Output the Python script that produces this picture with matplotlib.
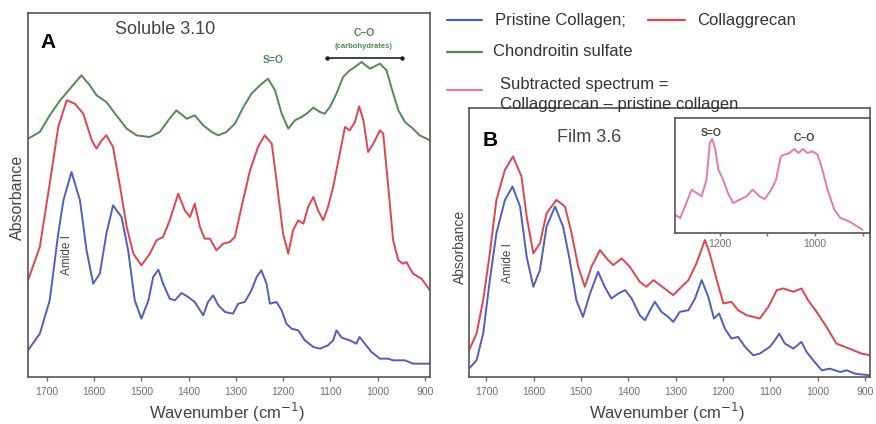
import matplotlib
matplotlib.use("Agg")
import matplotlib.pyplot as plt
from matplotlib.lines import Line2D

plt.rcParams['font.family'] = ['Liberation Sans', 'DejaVu Sans']
plt.rcParams['lines.solid_joinstyle'] = 'round'
plt.rcParams['lines.solid_capstyle'] = 'round'

# ---- Panel A: soluble 3.10 ----
wn_a_blue = [1740, 1715, 1694, 1676, 1665, 1648, 1630, 1616, 1602, 1588,
             1574, 1560, 1542, 1528, 1514, 1500, 1485, 1475, 1464, 1454,
             1440, 1429, 1415, 1401, 1387, 1369, 1359, 1348, 1337, 1323,
             1306, 1295, 1281, 1267, 1256, 1246, 1235, 1228, 1214, 1203,
             1193, 1182, 1168, 1154, 1136, 1122, 1105, 1094, 1087, 1076,
             1059, 1045, 1038, 1027, 1013, 995, 978, 967, 942, 925, 889]
abs_a_blue = [0.08, 0.13, 0.23, 0.43, 0.53, 0.615, 0.53, 0.38, 0.28, 0.31,
              0.43, 0.515, 0.48, 0.38, 0.23, 0.175, 0.23, 0.30, 0.322, 0.28,
              0.235, 0.23, 0.252, 0.24, 0.225, 0.185, 0.225, 0.245, 0.215, 0.195,
              0.19, 0.22, 0.225, 0.26, 0.30, 0.32, 0.28, 0.22, 0.225, 0.20,
              0.16, 0.145, 0.14, 0.11, 0.09, 0.085, 0.095, 0.11, 0.14, 0.118,
              0.11, 0.10, 0.12, 0.10, 0.075, 0.055, 0.055, 0.05, 0.05, 0.04, 0.04]

wn_a_red = [1740, 1715, 1694, 1676, 1658, 1641, 1623, 1605, 1595, 1584,
            1574, 1560, 1545, 1531, 1517, 1500, 1482, 1468, 1454, 1440,
            1422, 1408, 1397, 1387, 1376, 1366, 1355, 1341, 1327, 1313,
            1302, 1288, 1270, 1253, 1239, 1224, 1214, 1200, 1189, 1179,
            1168, 1157, 1147, 1136, 1126, 1115, 1105, 1094, 1080, 1069,
            1059, 1048, 1039, 1030, 1020, 1009, 995, 988, 978, 967,
            956, 946, 939, 925, 907, 889]
abs_a_red = [0.29, 0.39, 0.58, 0.75, 0.83, 0.82, 0.79, 0.71, 0.685, 0.71,
             0.725, 0.69, 0.57, 0.45, 0.37, 0.335, 0.37, 0.41, 0.42, 0.47,
             0.55, 0.50, 0.48, 0.52, 0.45, 0.415, 0.415, 0.38, 0.40, 0.405,
             0.42, 0.51, 0.62, 0.69, 0.725, 0.70, 0.59, 0.43, 0.37, 0.44,
             0.47, 0.46, 0.51, 0.54, 0.50, 0.47, 0.51, 0.57, 0.67, 0.75,
             0.74, 0.765, 0.812, 0.77, 0.675, 0.70, 0.74, 0.73, 0.58, 0.41,
             0.35, 0.34, 0.345, 0.31, 0.295, 0.26]

wn_a_green = [1740, 1715, 1694, 1672, 1651, 1627, 1609, 1595, 1574, 1553,
              1531, 1510, 1482, 1461, 1443, 1426, 1404, 1387, 1369, 1351,
              1337, 1320, 1302, 1284, 1267, 1249, 1232, 1217, 1203, 1189,
              1175, 1161, 1150, 1136, 1122, 1112, 1101, 1087, 1073, 1059,
              1048, 1034, 1016, 995, 981, 971, 956, 942, 925, 911, 889]
abs_a_green = [0.715, 0.735, 0.785, 0.83, 0.865, 0.905, 0.875, 0.845, 0.825, 0.785,
               0.745, 0.725, 0.72, 0.735, 0.77, 0.80, 0.775, 0.785, 0.755, 0.735,
               0.725, 0.735, 0.76, 0.81, 0.85, 0.875, 0.895, 0.86, 0.79, 0.745,
               0.77, 0.78, 0.79, 0.808, 0.795, 0.79, 0.81, 0.85, 0.90, 0.92,
               0.93, 0.945, 0.925, 0.94, 0.92, 0.87, 0.80, 0.765, 0.745, 0.725, 0.71]

# ---- Panel B: film 3.6 ----
wn_b_blue = [1737, 1721, 1707, 1693, 1679, 1661, 1645, 1629, 1615, 1601,
             1587, 1573, 1555, 1538, 1524, 1510, 1496, 1481, 1464, 1450,
             1436, 1421, 1407, 1393, 1376, 1365, 1354, 1344, 1330, 1316,
             1305, 1291, 1273, 1259, 1245, 1231, 1219, 1208, 1196, 1182,
             1168, 1153, 1136, 1122, 1101, 1090, 1081, 1069, 1051, 1034,
             1023, 1009, 991, 974, 952, 938, 921, 889]
abs_b_blue = [0.025, 0.05, 0.13, 0.29, 0.43, 0.53, 0.57, 0.51, 0.36, 0.27,
              0.32, 0.45, 0.51, 0.45, 0.35, 0.23, 0.18, 0.25, 0.315, 0.27,
              0.235, 0.25, 0.26, 0.235, 0.185, 0.17, 0.20, 0.225, 0.195, 0.18,
              0.165, 0.195, 0.20, 0.235, 0.29, 0.24, 0.175, 0.19, 0.145, 0.115,
              0.12, 0.09, 0.065, 0.07, 0.09, 0.11, 0.13, 0.10, 0.085, 0.105,
              0.075, 0.05, 0.02, 0.025, 0.015, 0.02, 0.01, 0.005]

wn_b_red = [1737, 1721, 1707, 1693, 1679, 1661, 1644, 1626, 1615, 1601,
            1587, 1573, 1552, 1534, 1520, 1506, 1492, 1478, 1460, 1446,
            1432, 1414, 1397, 1376, 1362, 1347, 1333, 1319, 1305, 1291,
            1273, 1256, 1238, 1228, 1213, 1199, 1182, 1168, 1150, 1122,
            1104, 1086, 1072, 1051, 1034, 1020, 1002, 981, 960, 942,
            924, 907, 889]
abs_b_red = [0.08, 0.13, 0.23, 0.37, 0.53, 0.62, 0.66, 0.60, 0.48, 0.37,
             0.40, 0.49, 0.53, 0.51, 0.43, 0.33, 0.27, 0.33, 0.38, 0.355,
             0.335, 0.355, 0.33, 0.285, 0.27, 0.29, 0.275, 0.26, 0.245, 0.265,
             0.29, 0.34, 0.41, 0.37, 0.29, 0.22, 0.225, 0.20, 0.185, 0.175,
             0.21, 0.26, 0.265, 0.255, 0.265, 0.23, 0.195, 0.15, 0.10, 0.09,
             0.08, 0.07, 0.065]

# ---- Inset: subtracted spectrum ----
wn_sub = [1294, 1283, 1273, 1259, 1249, 1238, 1228, 1221, 1216, 1210,
          1203, 1193, 1183, 1172, 1158, 1144, 1131, 1117, 1106, 1092,
          1082, 1072, 1065, 1054, 1044, 1035, 1026, 1016, 1006, 995,
          985, 974, 960, 947, 929, 912, 901]
abs_sub = [0.055, 0.045, 0.08, 0.13, 0.12, 0.11, 0.16, 0.27, 0.282, 0.255,
           0.19, 0.16, 0.12, 0.09, 0.10, 0.11, 0.13, 0.11, 0.102, 0.13,
           0.16, 0.23, 0.235, 0.24, 0.252, 0.24, 0.252, 0.24, 0.245, 0.235,
           0.19, 0.13, 0.07, 0.045, 0.035, 0.02, 0.01]

xticks_main = [1700, 1600, 1500, 1400, 1300, 1200, 1100, 1000, 900]

BLUE = '#4d5fbf'
RED = '#e0454d'
GREEN = '#4f8c50'
PINK = '#e27aaf'
FRAME = '#555555'
TICK = '#707070'
W, H = 876, 424


def fx(x):
    return x / W


def fy(y):
    return 1 - y / H


def style_axes(ax):
    for s in ax.spines.values():
        s.set_color(FRAME)
        s.set_linewidth(1.2)
    ax.set_yticks([])
    ax.tick_params(axis='x', direction='out', length=3, width=1,
                   color=TICK, labelcolor=TICK, labelsize=7.5, pad=4)


fig = plt.figure(figsize=(8.76, 4.24), dpi=100)

# Panel A
axA = fig.add_axes([fx(28), fy(377), fx(402), 364 / H])
axA.plot(wn_a_blue, abs_a_blue, color=BLUE, lw=1.4)
axA.plot(wn_a_red, abs_a_red, color=RED, lw=1.4)
axA.plot(wn_a_green, abs_a_green, color=GREEN, lw=1.4)
axA.set_xlim(1740, 889)
axA.set_ylim(0, 1.092)
axA.set_xticks(xticks_main)
style_axes(axA)
# bracket over the carbohydrate region
axA.plot([1108, 949], [0.876, 0.876], color='#222222', lw=1.2,
         marker='o', ms=2.2, transform=axA.get_xaxis_transform(), clip_on=False)

# Panel B
axB = fig.add_axes([fx(469), fy(377), fx(401), 269 / H])
axB.plot(wn_b_blue, abs_b_blue, color=BLUE, lw=1.4)
axB.plot(wn_b_red, abs_b_red, color=RED, lw=1.4)
axB.set_xlim(1737, 889)
axB.set_ylim(0, 0.805)
axB.set_xticks(xticks_main)
style_axes(axB)

# Inset
axI = fig.add_axes([fx(675), fy(233), fx(195), 115 / H])
axI.plot(wn_sub, abs_sub, color=PINK, lw=1.4)
axI.set_xlim(1294, 885)
axI.set_ylim(0, 0.345)
axI.set_xticks([1200, 1100, 1000, 900])
axI.set_xticklabels(['1200', '', '1000', ''])
style_axes(axI)
axI.tick_params(axis='x', length=2.5, pad=2)

# Texts panel A
fig.text(fx(40), fy(42), 'A', fontsize=15, fontweight='bold', va='center', ha='left')
fig.text(fx(115), fy(30), 'Soluble 3.10', fontsize=13, color='#444444', va='center', ha='left')
fig.text(fx(273), fy(60), 'S=O', fontsize=7.5, fontweight='bold', color=GREEN, va='center', ha='center')
fig.text(fx(364), fy(33), 'C–O', fontsize=7.5, fontweight='bold', color=GREEN, va='center', ha='center')
fig.text(fx(364), fy(47), '(carbohydrates)', fontsize=5.5, fontweight='bold', color=GREEN, va='center', ha='center')
fig.text(fx(67), fy(255), 'Amide I', fontsize=8.5, color='#444444', rotation=90, va='center', ha='center')
fig.text(fx(17), fy(197), 'Absorbance', fontsize=11.5, color='#444444', rotation=90, va='center', ha='center')
fig.text(fx(227), fy(412), 'Wavenumber (cm$^{-1}$)', fontsize=12, color='#444444', va='center', ha='center')

# Texts panel B
fig.text(fx(483), fy(141), 'B', fontsize=15, fontweight='bold', va='center', ha='left')
fig.text(fx(557), fy(137), 'Film 3.6', fontsize=13, color='#444444', va='center', ha='left')
fig.text(fx(711), fy(133), 'S=O', fontsize=7.5, fontweight='bold', color='#444444', va='center', ha='center')
fig.text(fx(804), fy(138), 'C–O', fontsize=7.5, fontweight='bold', color='#444444', va='center', ha='center')
fig.text(fx(508), fy(263), 'Amide I', fontsize=8.5, color='#444444', rotation=90, va='center', ha='center')
fig.text(fx(460), fy(247), 'Absorbance', fontsize=10, color='#444444', rotation=90, va='center', ha='center')
fig.text(fx(667), fy(412), 'Wavenumber (cm$^{-1}$)', fontsize=12, color='#444444', va='center', ha='center')

# Legend (figure level)
legend_items = [
    (447, 482, 20, BLUE, 495, 'Pristine Collagen;'),
    (648, 685, 20, RED, 697, 'Collaggrecan'),
    (447, 482, 52, GREEN, 493, 'Chondroitin sulfate'),
]
for x0, x1, y, c, tx, label in legend_items:
    fig.add_artist(Line2D([fx(x0), fx(x1)], [fy(y), fy(y)], color=c, lw=1.6))
    fig.text(fx(tx), fy(y), label, fontsize=12, color='#333333', va='center', ha='left')
fig.add_artist(Line2D([fx(447), fx(482)], [fy(90), fy(90)], color=PINK, lw=1.6))
fig.text(fx(500), fy(85), 'Subtracted spectrum =', fontsize=12, color='#333333', va='center', ha='left')
fig.text(fx(500), fy(105), 'Collaggrecan – pristine collagen', fontsize=12, color='#333333', va='center', ha='left')

fig.savefig('out.png', dpi=100)
